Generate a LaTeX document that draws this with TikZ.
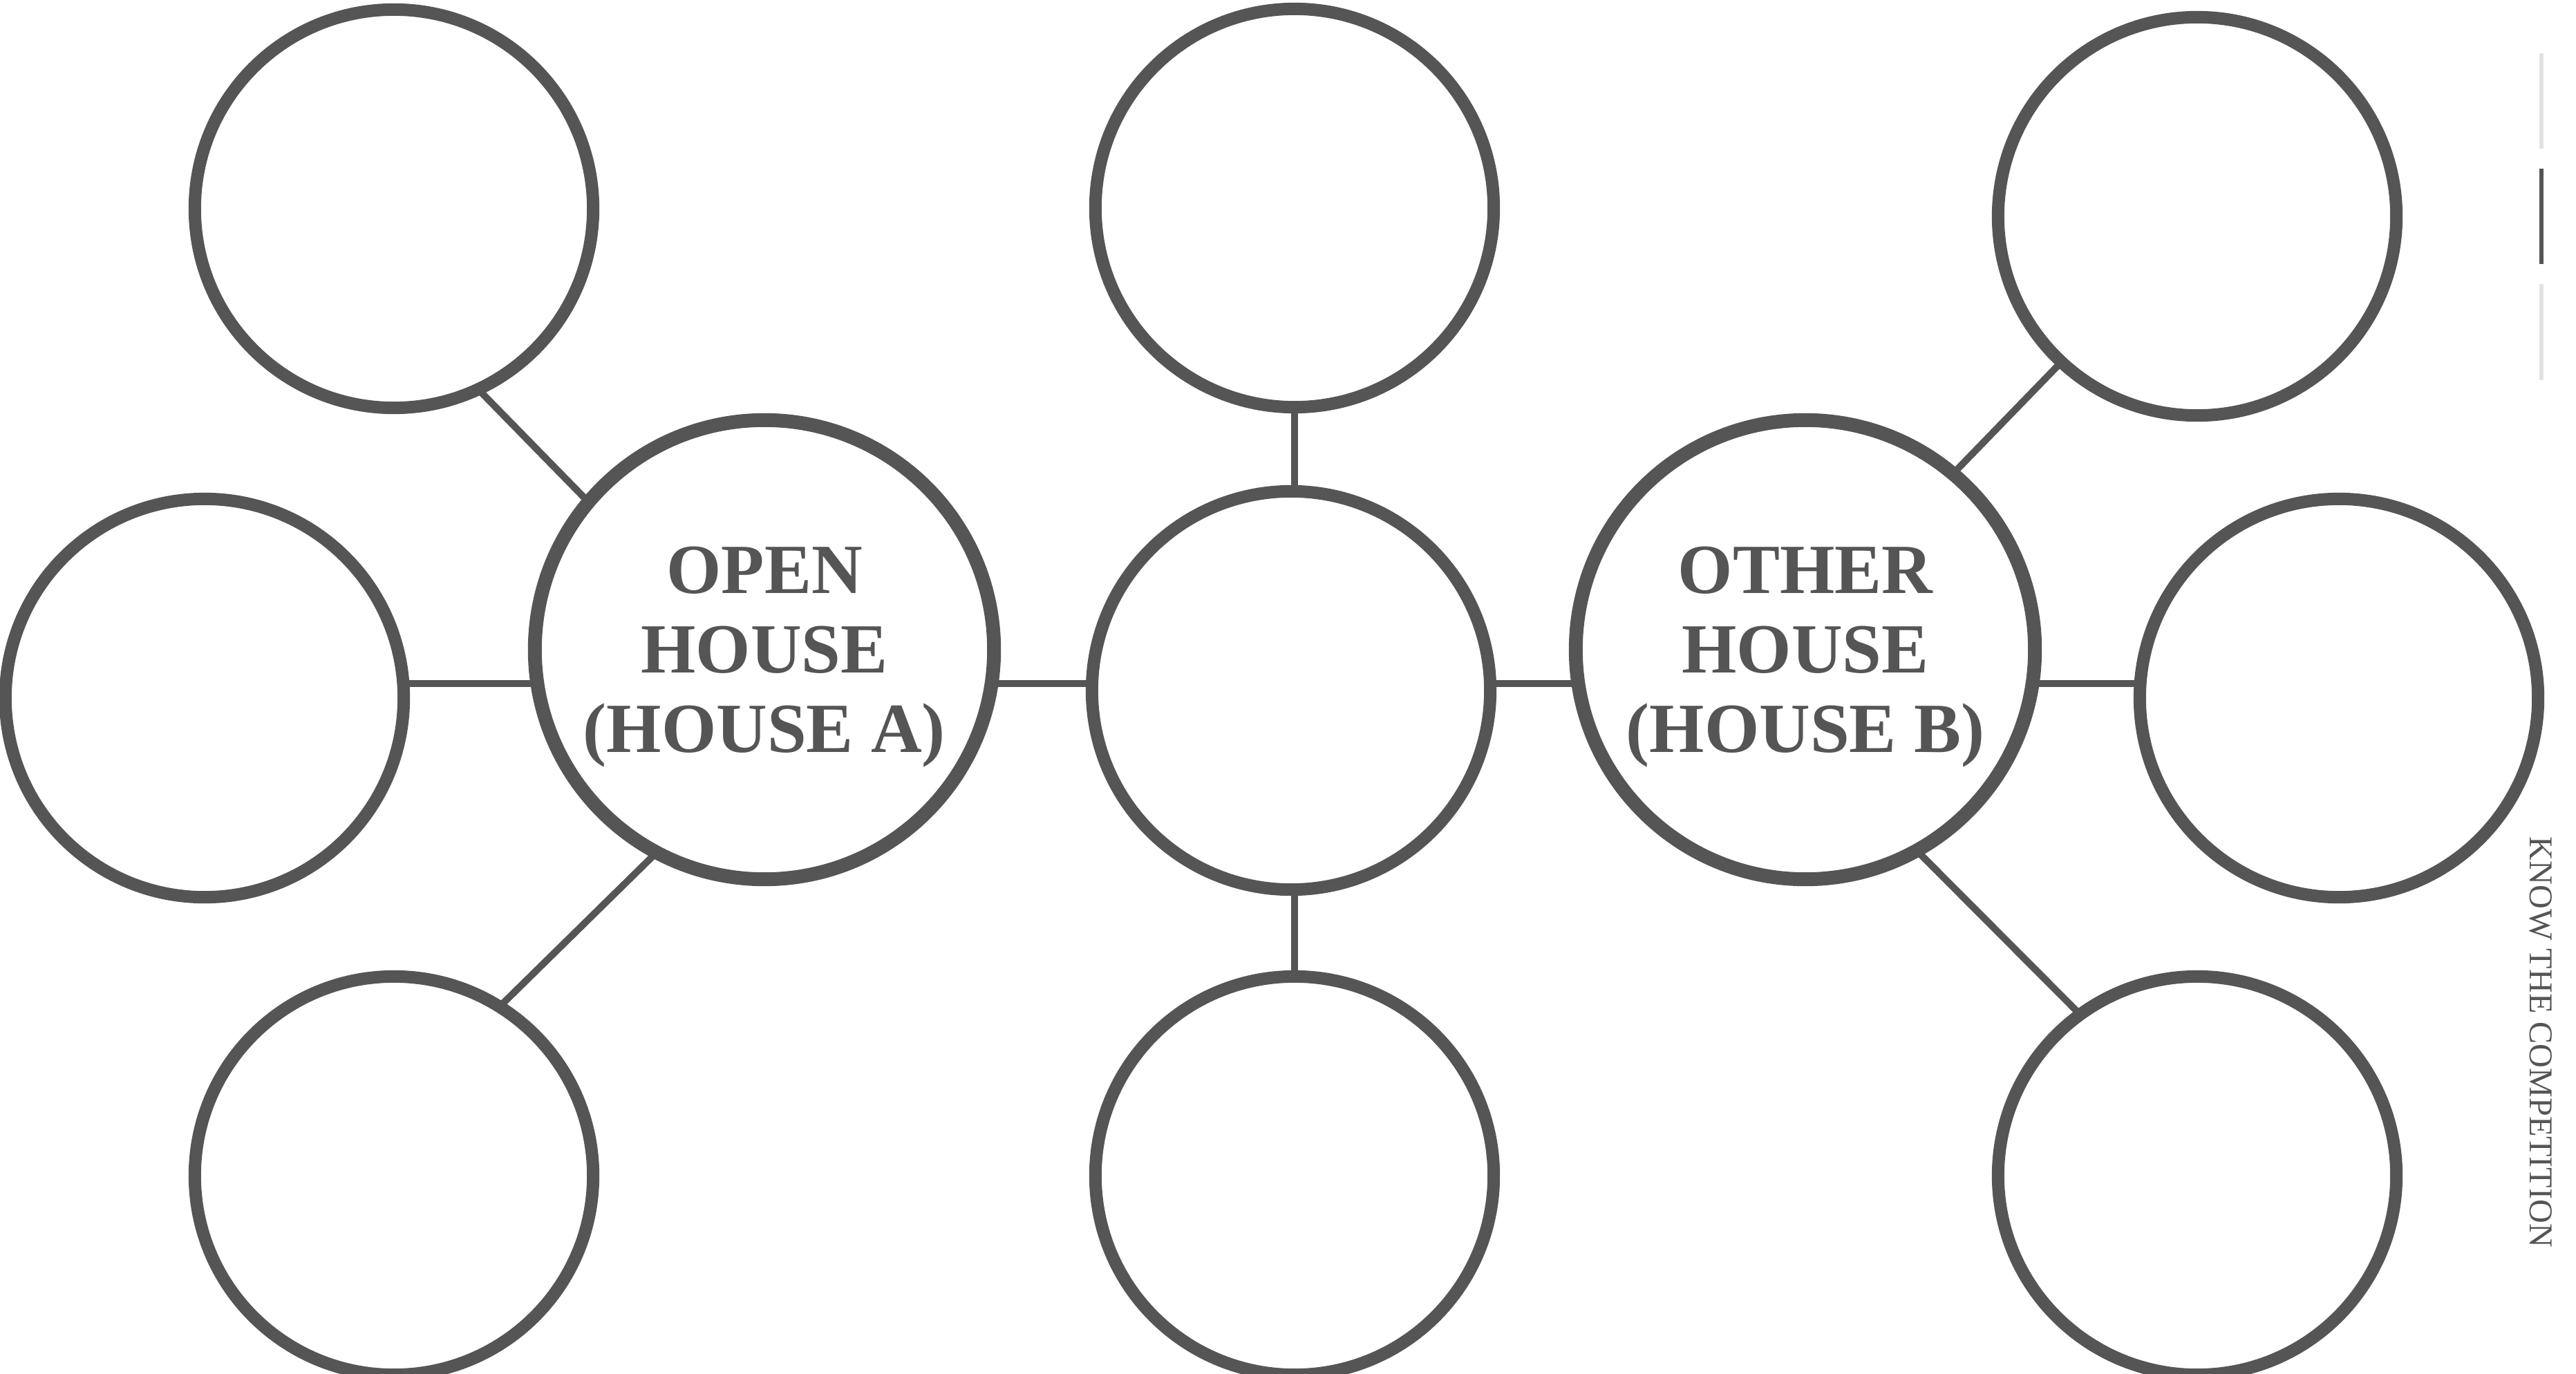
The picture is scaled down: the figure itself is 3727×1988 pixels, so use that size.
\documentclass[tikz,border=0pt]{standalone}
\usepackage{fontspec}
\setmainfont{Liberation Serif}
\usetikzlibrary{backgrounds}
\definecolor{ink}{HTML}{555555}
\definecolor{pale}{HTML}{E3E3E3}
\begin{document}
\begin{tikzpicture}[x=0.01cm, y=-0.01cm,
  small/.style={circle, draw=ink, line width=0.18cm, fill=white, minimum size=5.76cm, inner sep=0pt, outer sep=0pt},
  big/.style={circle, draw=ink, line width=0.20cm, fill=white, minimum size=6.64cm, inner sep=0pt, outer sep=0pt, text=ink, font=\bfseries\fontsize{29}{32.7}\selectfont, align=center, text depth=0pt},
  link/.style={draw=ink, line width=0.10cm},
  sidetext/.style={text=ink, rotate=-90, inner sep=0pt, font=\fontsize{13.7}{16}\selectfont}]
\useasboundingbox (0,0) rectangle (3727,1988);
% circles
\node[small] (TL) at (570,302) {};
\node[small] (ML) at (296,1010) {};
\node[small] (BL) at (570,1701) {};
\node[big] (A) at (1106,940) {OPEN\\HOUSE\\(HOUSE A)};
\node[small] (TC) at (1873,301) {};
\node[small] (MC) at (1868,999) {};
\node[small] (BC) at (1873,1701) {};
\node[big] (B) at (2612,940) {OTHER\\HOUSE\\(HOUSE B)};
\node[small] (TR) at (3179,313) {};
\node[small] (MR) at (3384,1010) {};
\node[small] (BR) at (3179,1701) {};
\coordinate (hl) at (0,989);
% side marks and caption
\fill[pale] (3674,77) rectangle (3680,215);
\fill[ink] (3674,244) rectangle (3680,382);
\fill[pale] (3674,411) rectangle (3680,550);
\node[sidetext] (side) at (3676,1508) {KNOW THE COMPETITION};
% connectors behind the circles
\begin{pgfonlayer}{background}
\fill[white] (0,0) rectangle (3727,1988);
\draw[link] (TL.-65) -- (A.140);
\draw[link] (BL.58) -- (A.-118);
\draw[link] (ML |- hl) -- (A |- hl);
\draw[link] (A |- hl) -- (MC |- hl);
\draw[link] (MC |- hl) -- (B |- hl);
\draw[link] (B |- hl) -- (MR |- hl);
\draw[link] (TC.south) -- (TC.south |- MC.north);
\draw[link] (BC.north) -- (BC.north |- MC.south);
\draw[link] (TR.-133) -- (B.50);
\draw[link] (BR.126) -- (B.-61);
\end{pgfonlayer}
\end{tikzpicture}
\end{document}
